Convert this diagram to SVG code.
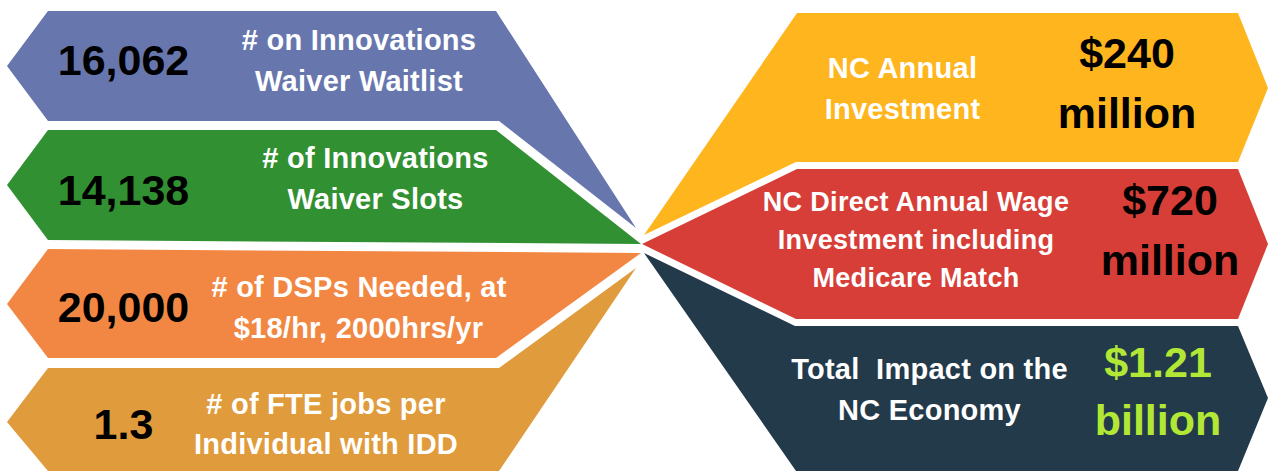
<svg xmlns="http://www.w3.org/2000/svg" width="1268" height="471" viewBox="0 0 1268 471">
<style>
text{font-family:"Liberation Sans",Arial,sans-serif;font-weight:700;text-anchor:middle}
.l{font-size:29px;fill:#fff;letter-spacing:.25px}
.m{font-size:27px;fill:#fff;letter-spacing:.33px}
.b{font-size:43px;fill:#000}
.g{fill:#b2e835;font-size:43px}
</style>
<rect width="1268" height="471" fill="#fff"/>
<g id="n1"><path d="M7 66L48 11H496L636 228L499 121H48Z" fill="#6777ae"/><text class="b" x="123.500" y="75">16,062</text><text class="l" x="359" y="49.500"># on Innovations</text><text class="l" x="359" y="90.500">Waiver Waitlist</text></g>
<g id="n2"><path d="M7 185L48 130H496L641 244L48 240Z" fill="#319031"/><text class="b" x="123.500" y="205">14,138</text><text class="l" x="375.500" y="167.500"># of Innovations</text><text class="l" x="375.500" y="208.500">Waiver Slots</text></g>
<g id="n3"><path d="M7 304L48 249L641 253L496 358H48Z" fill="#f28743"/><text class="b" x="123.500" y="322">20,000</text><text class="l" x="359" y="296.500"># of DSPs Needed, at</text><text class="l" x="358.500" y="337.500">$18/hr, 2000hrs/yr</text></g>
<g id="n4"><path d="M7 422L48 368H499L636 268L499 471H48Z" fill="#e09b3d"/><text class="b" x="123.500" y="439">1.3</text><text class="l" x="326" y="413.500"># of FTE jobs per</text><text class="l" x="326" y="453.500">Individual with IDD</text></g>
<g id="n5"><path d="M644 235L797 13H1238L1268 88L1238 162H796Z" fill="#feb51e"/><text class="l" x="902.500" y="78">NC Annual</text><text class="l" x="902.500" y="119">Investment</text><text class="b" x="1127" y="68">$240</text><text class="b" x="1127" y="128">million</text></g>
<g id="n6"><path d="M642 244L797 169H1238L1268 244L1238 319H796Z" fill="#d73e37"/><text class="m" x="916" y="211">NC Direct Annual Wage</text><text class="m" x="916" y="248.500">Investment including</text><text class="m" x="916" y="286.500">Medicare Match</text><text class="b" x="1170" y="215">$720</text><text class="b" x="1170" y="275">million</text></g>
<g id="n7"><path d="M644 253L795 326H1238L1268 398L1238 471H796Z" fill="#233a4b"/><text class="l" x="929.500" y="379" xml:space="preserve">Total  Impact on the</text><text class="l" x="929.500" y="420">NC Economy</text><text class="g" x="1158" y="377">$1.21</text><text class="g" x="1158" y="435">billion</text></g>
<g id="connectors"/>
</svg>
